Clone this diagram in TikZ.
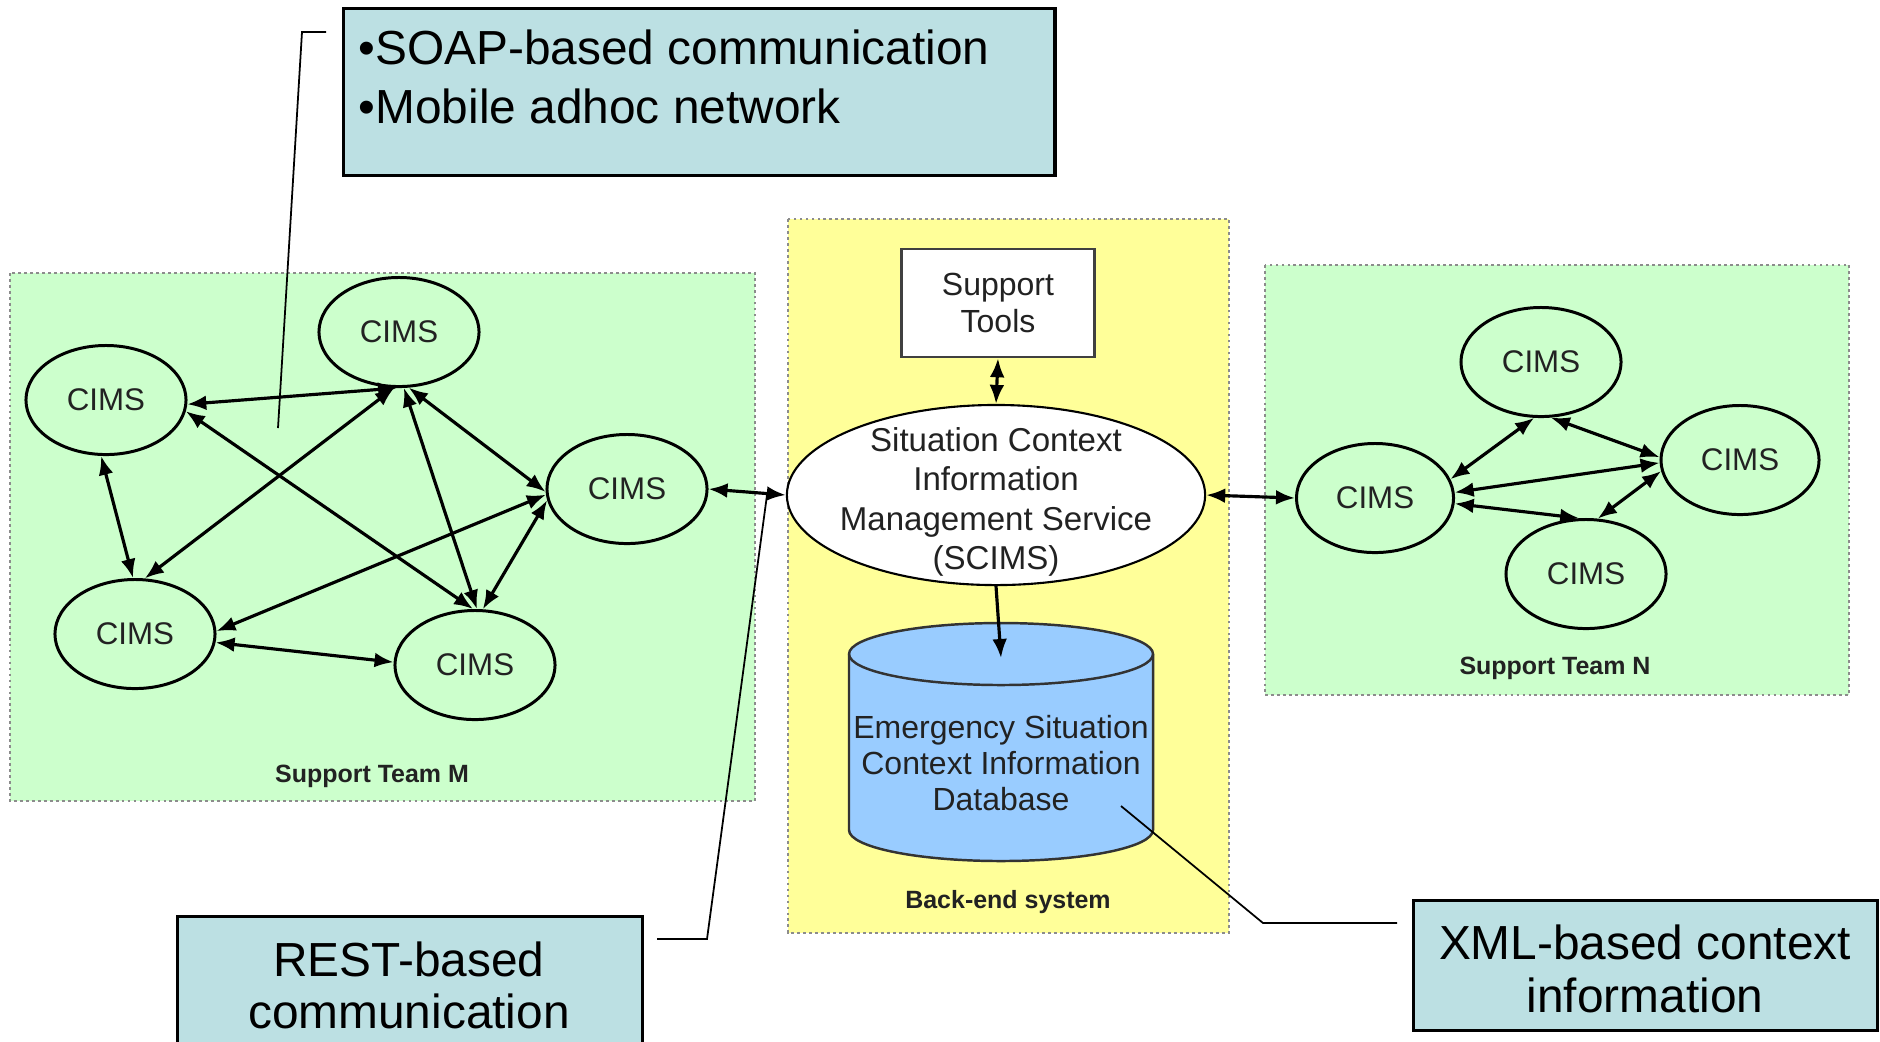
\documentclass[tikz,border=0pt]{standalone}
\usepackage{fontspec}
\setmainfont{Liberation Sans}
\usetikzlibrary{shapes.geometric,arrows.meta}
\definecolor{teamgreen}{HTML}{CCFFCC}
\definecolor{backyellow}{HTML}{FFFF99}
\definecolor{notefill}{HTML}{BCE0E3}
\definecolor{dbblue}{HTML}{99CCFF}
\definecolor{framegray}{HTML}{8C8C8C}
\definecolor{inktext}{HTML}{222222}

\begin{document}
\begin{tikzpicture}[x=0.01cm,y=0.01cm,
  panel/.style={draw=framegray, line width=0.8pt, dash pattern=on 0.8pt off 0.9pt},
  teamlabel/.style={font=\fontsize{7.1}{8}\selectfont\bfseries, text=inktext},
  cims/.style={ellipse, draw, line width=0.85pt, minimum width=1.6cm, minimum height=1.09cm,
    inner sep=0pt, text=inktext, font=\fontsize{8.9}{10}\selectfont},
  tip/.tip={Latex[length=5.4pt,width=4.2pt]},
  link/.style={line width=0.9pt, tip-tip},
  onelink/.style={line width=0.9pt, -tip},
  notebox/.style={draw=black, line width=0.9pt, fill=notefill, inner sep=0pt},
  notetext/.style={font=\fontsize{13.6}{16}\selectfont, inner sep=0pt},
  leader/.style={line width=0.5pt, draw=black},
  svc/.style={font=\fontsize{9.4}{11.2}\selectfont, text=inktext, align=center}
]
\clip (0,0) rectangle (1880,-1041);
\fill[white] (0,0) rectangle (1880,-1041);

% ---------- group panels ----------
\path[panel, fill=teamgreen] (10,-273) rectangle (755,-801);
\path[panel, fill=backyellow] (788,-219) rectangle (1229,-933);
\path[panel, fill=teamgreen] (1265,-265) rectangle (1849,-695);

\node[teamlabel] (labM) at (372,-776) {Support Team M};
\node[teamlabel] (labB) at (1008,-902) {Back-end system};
\node[teamlabel] (labN) at (1555,-668) {Support Team N};

% ---------- support team M ----------
\node[cims] (A) at (106,-400) {CIMS};
\node[cims] (B) at (399,-332) {CIMS};
\node[cims] (C) at (627,-489) {CIMS};
\node[cims] (D) at (135,-634) {CIMS};
\node[cims] (E) at (475,-665) {CIMS};

\draw[link] (A.-3) -- (B.-92);
\draw[link] (A.-8) -- (E.92);
\draw[link] (A.-95) -- (D.92);
\draw[link] (B.-95) -- (D.80);
\draw[link] (B.-85) -- (E.88);
\draw[link] (B.-80) -- (C.182);
\draw[link] (C.184) -- (D.2);
\draw[link] (C.188) -- (E.82);
\draw[link] (D.-6) -- (E.178);

% ---------- back-end system ----------
\node[draw=black!75, line width=0.7pt, fill=white, minimum width=1.93cm, minimum height=1.08cm,
  inner sep=0pt, svc, font=\fontsize{9.1}{10.5}\selectfont] (tools) at (998,-303) {Support\\Tools};
\node[ellipse, draw, line width=0.6pt, fill=white, minimum width=4.18cm, minimum height=1.8cm,
  inner sep=0pt] (scims) at (996,-495) {};
\node[svc] (scimstext) at (996,-502)
  {Situation Context\\Information\\Management Service\\(SCIMS)};

% database cylinder
\path[draw=black!80, line width=0.7pt, fill=dbblue]
  (849,-654) -- (849,-830) arc[start angle=180, end angle=360, x radius=152, y radius=31]
  -- (1153,-654) arc[start angle=0, end angle=180, x radius=152, y radius=31] -- cycle;
\draw[black!80, line width=0.7pt] (849,-654) arc[start angle=180, end angle=360, x radius=152, y radius=31];
\node[svc, font=\fontsize{9.1}{10.3}\selectfont] (db) at (1001,-763)
  {Emergency Situation\\Context Information\\Database};
\coordinate (dbin) at (1001,-658);

\draw[link] (tools.south) -- (scims.north);
\draw[onelink] (scims.south) -- (dbin);

% ---------- support team N ----------
\node[cims, minimum width=1.57cm] (F) at (1375,-498) {CIMS};
\node[cims] (G) at (1541,-362) {CIMS};
\node[cims, minimum width=1.58cm] (H) at (1740,-460) {CIMS};
\node[cims] (I) at (1586,-574) {CIMS};

\draw[link] (F.14) -- (G.-97);
\draw[link] (G.-80) -- (H.178);
\draw[link] (F.4) -- (H.182);
\draw[link] (F.-4) -- (I.97);
\draw[link] (H.188) -- (I.78);

% ---------- inter-group links ----------
\draw[link] (C.east) -- (scims.west);
\draw[link] (scims.east) -- (F.west);

% ---------- annotations ----------
\node[notebox, anchor=north west, minimum width=7.11cm, minimum height=1.67cm] (soap) at (342,-7) {};
\node[notetext, anchor=base west] (soap1) at (358,-64) {•SOAP-based communication};
\node[notetext, anchor=base west] (soap2) at (358,-123) {•Mobile adhoc network};
\coordinate (soapA) at (326,-32);
\coordinate (soapB) at (302,-32);
\coordinate (soapC) at (278,-428);
\draw[leader] (soapA) -- (soapB) -- (soapC);

\node[notebox, anchor=north west, minimum width=4.65cm, minimum height=1.5cm] (rest) at (176,-915) {};
\node[notetext, anchor=base] (rest1) at (409,-976) {REST-based};
\node[notetext, anchor=base] (rest2) at (409,-1028) {communication};
\coordinate (restA) at (657,-939);
\coordinate (restB) at (707,-939);
\coordinate (restC) at (767,-495);
\draw[leader] (restA) -- (restB) -- (restC);

\node[notebox, anchor=north west, minimum width=4.64cm, minimum height=1.3cm] (xml) at (1412,-899) {};
\node[notetext, anchor=base] (xml1) at (1645,-959) {XML-based context};
\node[notetext, anchor=base] (xml2) at (1645,-1012) {information};
\coordinate (xmlA) at (1397,-923);
\coordinate (xmlB) at (1263,-923);
\coordinate (xmlC) at (1121,-806);
\draw[leader] (xmlA) -- (xmlB) -- (xmlC);
\end{tikzpicture}
\end{document}
